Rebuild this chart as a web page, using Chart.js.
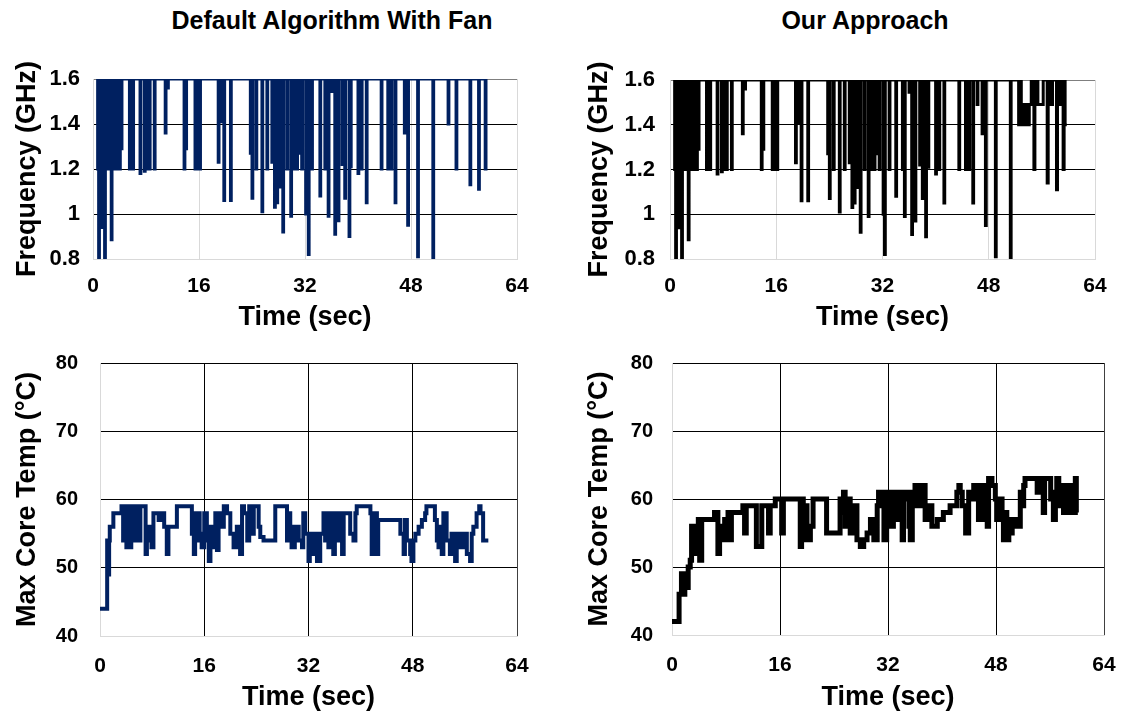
<!DOCTYPE html>
<html><head><meta charset="utf-8">
<script src="https://cdn.jsdelivr.net/npm/chart.js@4.4.1/dist/chart.umd.min.js"></script>
<style>
body{margin:0;background:#fff;width:1121px;height:715px;overflow:hidden;position:relative;font-family:"Liberation Sans",Arial,sans-serif;}
.title{position:absolute;top:5px;font-weight:bold;font-size:25px;line-height:30px;text-align:center;color:#000;}
canvas{position:absolute;}
</style></head><body>
<div class="title" style="left:82px;width:500px">Default Algorithm With Fan</div>
<div class="title" style="left:615px;width:500px">Our Approach</div>
<canvas id="c1" width="560" height="340" style="left:0;top:0"></canvas>
<canvas id="c2" width="561" height="340" style="left:560px;top:0"></canvas>
<canvas id="c3" width="560" height="375" style="left:0;top:340px"></canvas>
<canvas id="c4" width="561" height="375" style="left:560px;top:340px"></canvas>
<script>
// ---- tick values / labels ----
const timeTicks = [0, 16, 32, 48, 64];
const freqTicks = [0.8, 1, 1.2, 1.4, 1.6];
const freqTickLabels = ['0.8', '1', '1.2', '1.4', '1.6'];
const tempTicks = [40, 50, 60, 70, 80];

// ---- frequency: dips below 1.6 GHz (time s, GHz) ----
const freqFanDipT = [0.7,0.85,1.05,1.25,1.5,1.75,2.0,2.3,2.75,3.0,3.3,3.6,4.0,4.25,5.5,5.8,6.0,7.1,7.75,8.0,8.5,9.25,10.9,11.25,13.75,14.0,15.4,15.8,16.1,18.9,19.25,19.75,20.75,23.75,24.0,24.6,25.5,26.25,27.0,27.4,27.75,28.25,28.65,29.25,29.85,30.25,30.75,31.1,31.5,32.1,32.5,33.0,34.25,35.0,35.5,36.0,36.5,37.0,37.6,38.0,38.65,38.85,40.0,40.5,41.25,43.5,44.5,45.0,45.6,47.0,47.5,49.0,51.3,53.6,54.8,56.9,58.2,59.2];
const freqFanDipV = [1.2,0.8,1.2,0.94,1.2,0.8,1.2,1.2,0.886,1.2,1.2,1.2,1.2,1.29,1.2,1.39,1.2,1.18,1.19,1.2,1.2,1.2,1.36,1.56,1.2,1.29,1.2,1.2,1.2,1.23,1.41,1.06,1.06,1.27,1.07,1.2,1.01,1.2,1.23,1.03,1.05,1.12,0.92,1.2,0.99,1.2,1.2,1.27,1.2,1.0,0.82,1.2,1.08,1.2,0.99,1.545,0.91,0.97,1.22,1.07,0.9,1.21,1.18,1.2,1.05,1.2,1.2,1.2,1.05,1.36,0.95,0.81,0.8,1.4,1.2,1.13,1.11,1.2];

const freqOursDipT = [0.7,0.85,1.05,1.25,1.5,1.75,2.0,2.3,2.75,3.0,3.3,3.6,4.0,4.25,5.5,5.8,6.0,7.1,7.75,8.0,8.5,9.25,10.9,11.25,13.75,14.0,15.4,15.8,16.1,18.9,19.25,19.75,20.75,23.75,24.0,24.6,25.5,26.25,27.0,27.4,27.75,28.25,28.65,29.25,29.85,30.25,30.75,31.1,31.5,32.1,32.3,33.0,34.0,35.0,35.3,36.0,36.4,36.9,37.6,38.0,38.5,38.85,40.0,40.5,41.25,43.5,44.5,45.0,45.6,46.25,47.0,47.5,49.0,51.25];
const freqOursDipV = [1.2,0.8,1.2,0.94,1.2,0.8,1.2,1.2,0.886,1.2,1.2,1.2,1.2,1.29,1.2,1.39,1.2,1.18,1.19,1.2,1.2,1.2,1.36,1.56,1.2,1.29,1.2,1.2,1.2,1.23,1.41,1.06,1.06,1.27,1.07,1.2,1.01,1.2,1.23,1.03,1.05,1.12,0.92,1.2,0.99,1.2,1.2,1.27,1.2,1.0,0.82,1.2,1.08,1.2,0.99,1.545,0.91,0.97,1.22,1.07,0.9,1.21,1.18,1.2,1.05,1.2,1.2,1.2,1.05,1.49,1.36,0.95,0.81,0.8];
// tail of "Our Approach" frequency trace (time s, GHz)
const freqOursTailT = [52.4,52.5,52.7,52.9,53.1,53.4,53.6,53.9,54.1,54.4,54.8,54.95,55.1,55.4,56.2,56.8,56.95,57.3,57.6,58.2,58.35,58.5,58.8,59.1,59.2,59.35,59.5,59.75];
const freqOursTailV = [1.6,1.4,1.6,1.4,1.49,1.4,1.49,1.4,1.49,1.6,1.2,1.61,1.6,1.49,1.6,1.14,1.6,1.49,1.6,1.11,1.62,1.6,1.49,1.6,1.2,1.6,1.4,1.4];

// ---- max core temperature (time s, deg C) ----
const tempFanT = [0,1.0,1.1,1.25,1.4,1.5,2.05,3.1,3.3,3.55,3.8,4.05,4.3,4.55,4.8,5.0,5.4,5.6,5.9,6.2,6.9,7.0,7.2,7.7,7.9,8.2,9.0,9.3,9.7,9.85,10.25,10.5,11.5,11.8,13.85,14.1,14.4,14.6,14.9,15.1,15.3,15.6,16.0,16.4,16.7,16.95,17.4,17.7,17.95,18.2,18.7,19.0,19.5,20.0,20.5,21.0,21.5,21.8,22.1,22.6,22.9,23.3,23.6,24.1,24.35,24.6,25.1,26.7,26.9,27.5,28.2,28.7,28.9,29.2,29.4,29.9,30.5,31.0,31.2,31.5,32.0,32.2,32.5,32.8,33.3,33.8,34.3,34.55,34.8,35.05,35.3,35.8,36.05,36.3,36.9,37.15,37.4,37.9,38.4,38.9,39.2,39.4,41.0,41.5,41.7,42.0,42.5,42.7,45.8,46.1,46.6,46.8,47.1,47.6,47.8,48.1,48.4,48.9,49.4,49.9,50.1,51.2,51.4,51.7,51.95,52.2,52.45,52.7,53.2,53.7,53.95,54.5,54.75,55.3,55.8,56.3,56.8,57.05,57.3,57.8,58.2,58.4,58.8,59.6];
const tempFanV = [44,44,54,49,54,56,58,58,59,54,59,53,59,53,59,54,54,59,54,59,59,52,56,54,53,58,57,58,58,56,52,56,56,59,59,55,52,58,54,58,55,53,58,54,51,56,53,58,52.6,58,56,59,58,55,53,56,52,59,58,54,59,55,59,59,56,54.5,54,54,59,59,59,54,58,56,53,56,54,53,58,55,51,55,52,55,51,55,58,54,58,53,58,52,58,54,58,52,58,58,55,54,58,59,59,58,52,58,52,57,57,55,52,57,54,52,51,54,55,56,57,58,59,59,57,54,53,56,52,58,54,52,55,51,55,53,55,52,51,55,56,58,59,58,54,54];

const tempOursT = [0,0.9,1.05,1.4,1.65,1.9,2.1,2.4,2.7,2.9,3.1,3.4,3.6,3.9,4.1,4.4,6.1,6.3,6.6,6.8,7.05,7.3,7.55,7.8,8.05,8.3,8.55,8.8,10.0,10.5,10.75,11.0,12.3,12.5,13.0,13.3,13.8,14.3,14.55,15.0,15.3,16.0,16.25,16.5,18.7,19.0,19.2,19.45,19.7,20.0,20.5,20.9,22.7,22.9,24.7,24.9,25.15,25.4,25.65,25.9,26.4,26.9,27.4,27.9,28.4,28.9,29.4,29.9,30.4,30.6,31.1,31.4,31.8,32.35,32.8,33.3,33.8,34.1,34.3,34.6,35.1,35.3,35.6,36.0,36.3,36.8,37.2,37.5,38.0,38.5,39.3,40.2,41.2,42.2,42.5,42.7,43.0,43.5,43.95,44.4,44.7,45.2,45.4,45.7,46.2,46.4,46.7,46.9,47.4,47.9,48.1,48.4,48.6,48.9,49.1,49.4,49.6,49.9,50.1,50.4,51.1,51.6,51.85,52.1,52.3,54.0,54.1,54.3,55.0,55.2,55.6,56.1,56.5,56.8,57.0,57.3,57.5,58.0,58.25,58.5,58.75,59.0,59.3,59.75,59.9];
const tempOursV = [42,42,46,49,46,49,47,50,51,56,52,56,52,57,51,57,57,58,58,52,54,56,54,57,54,58,54,58,58,59,55,59,59,53,53,59,59,55,59,59,60,60,55,60,60,53,60,54,59,54,56,60,60,55,55,60,58,61,56,60,55,59,54,53,54,55,57,54,59,61,59,54,61,56,61,57,61,54,60,61,56,54,61,62,59,62,62,57,59,56,57,58,59,61,62,61,59,55,61,60,62,61,57,62,57,62,56,63,62,60,57,58,60,57,54,58,54,57,55,57,56,61,59,62,63,63,61,63,58,63,63,60,57,61,63,59,62,58,62,60,58,62,58,63,58];

const NAVY = '#002060';
const LIGHT = '#d9d9d9';
const CLEAR = 'rgba(0,0,0,0)';

function dipSeries(start, dipT, dipV, w) {
  const pts = [{x: start, y: 1.6}];
  dipT.forEach((t, i) => { pts.push({x: t, y: dipV[i]}); pts.push({x: t + w, y: 1.6}); });
  return pts;
}
function pairSeries(T, V) { return T.map((t, i) => ({x: t, y: V[i]})); }

function makeChart(id, o) {
  const xTickFont = {family: 'Liberation Sans', weight: 'bold', size: 21};
  const yTickFont = {family: 'Liberation Sans', weight: 'bold', size: o.yFont};
  const titleFont = {family: 'Liberation Sans', weight: 'bold', size: 27};
  return new Chart(document.getElementById(id), {
    type: 'line',
    data: {datasets: [{data: o.data, borderColor: o.color, borderWidth: o.lw, pointRadius: 0, stepped: true, tension: 0, fill: false}]},
    options: {
      responsive: false, animation: false, events: [],
      layout: {padding: {left: 0, top: o.top, right: o.right, bottom: 0}},
      plugins: {legend: {display: false}, tooltip: {enabled: false}},
      scales: {
        x: {
          type: 'linear', min: 0, max: 64,
          afterBuildTicks: s => { s.ticks = timeTicks.map(v => ({value: v})); },
          afterFit: s => { s.height = o.xH; },
          ticks: {font: xTickFont, color: '#000', padding: 0, maxRotation: 0, autoSkip: false, callback: v => String(v)},
          grid: {drawTicks: true, tickLength: o.xPad, tickColor: CLEAR, lineWidth: 1, color: o.xGrid},
          border: {color: LIGHT, width: 1},
          title: {display: true, text: 'Time (sec)', font: titleFont, color: '#000', padding: {top: 0, bottom: o.xTitlePad}}
        },
        y: {
          type: 'linear', min: o.ymin, max: o.ymax,
          afterBuildTicks: s => { s.ticks = o.yTicks.map(v => ({value: v})); },
          afterFit: s => { s.width = o.yW; },
          ticks: {font: yTickFont, color: '#000', padding: 0, autoSkip: false, callback: (v, i) => o.yLabels[i]},
          grid: {drawTicks: true, tickLength: o.yPad, tickColor: CLEAR, lineWidth: 1, color: o.yGrid},
          border: {color: LIGHT, width: 1},
          title: {display: true, text: o.yTitle, font: titleFont, color: '#000', padding: {top: o.yTitlePad, bottom: 0}}
        }
      }
    }
  });
}

const freqXGrid = () => LIGHT;
const freqYGrid = c => c.tick.value === 0.8 ? LIGHT : (c.tick.value === 1.6 ? '#7f7f7f' : '#000');
const tempXGrid = c => c.tick.value === 0 ? LIGHT : (c.tick.value === 64 ? '#404040' : '#000');
const tempYGrid = c => c.tick.value === 40 ? LIGHT : '#000';

const oursFreq = dipSeries(0.5, freqOursDipT, freqOursDipV, 0.12).concat(pairSeries(freqOursTailT, freqOursTailV));

makeChart('c1', {data: dipSeries(0.5, freqFanDipT, freqFanDipV, 0.12), color: NAVY, lw: 3,
  top: 79, right: 43, xH: 81, yW: 93, xPad: 15, yPad: 13, yFont: 22, xTitlePad: 6, yTitlePad: 11,
  ymin: 0.8, ymax: 1.6, yTicks: freqTicks, yLabels: freqTickLabels, yTitle: 'Frequency (GHz)',
  xGrid: freqXGrid, yGrid: freqYGrid});
makeChart('c2', {data: oursFreq, color: '#000', lw: 3,
  top: 80, right: 26, xH: 81, yW: 110, xPad: 15, yPad: 15, yFont: 22, xTitlePad: 6, yTitlePad: 23,
  ymin: 0.8, ymax: 1.6, yTicks: freqTicks, yLabels: freqTickLabels, yTitle: 'Frequency (GHz)',
  xGrid: freqXGrid, yGrid: freqYGrid});
makeChart('c3', {data: pairSeries(tempFanT, tempFanV), color: NAVY, lw: 4,
  top: 23, right: 43, xH: 79, yW: 100, xPad: 18, yPad: 22, yFont: 20, xTitlePad: 1, yTitlePad: 11,
  ymin: 40, ymax: 80, yTicks: tempTicks, yLabels: tempTicks.map(String), yTitle: 'Max Core Temp (°C)',
  xGrid: tempXGrid, yGrid: tempYGrid});
makeChart('c4', {data: pairSeries(tempOursT, tempOursV), color: '#000', lw: 5,
  top: 23, right: 17, xH: 80, yW: 112, xPad: 18, yPad: 19, yFont: 20, xTitlePad: 1, yTitlePad: 23,
  ymin: 40, ymax: 80, yTicks: tempTicks, yLabels: tempTicks.map(String), yTitle: 'Max Core Temp (°C)',
  xGrid: tempXGrid, yGrid: tempYGrid});
</script>
</body></html>
